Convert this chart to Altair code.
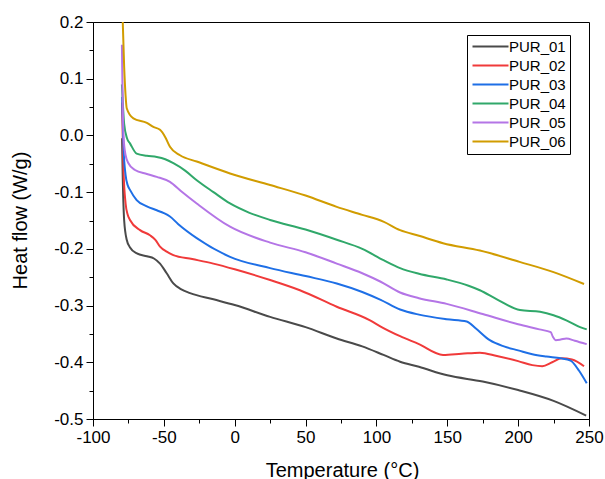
import altair as alt
import pandas as pd

series_names = ["PUR_01", "PUR_02", "PUR_03", "PUR_04", "PUR_05", "PUR_06"]
colors = ["#4a4a4a", "#f03a3a", "#1e6fe6", "#30a86a", "#b475e6", "#d19c00"]

x01 = [-79.5, -79.2, -78.0, -76.2, -74.0, -69.0, -62.0, -57.0, -52.7, -48.0, -43.3, -38.0, -31.5, -15.0, 0.0, 25.0, 50.0, 72.0, 90.0, 105.0, 116.7, 130.0, 150.0, 175.0, 200.0, 225.0, 248.0]
y01 = [-0.005, -0.05, -0.15, -0.184, -0.197, -0.208, -0.213, -0.217, -0.226, -0.243, -0.261, -0.271, -0.278, -0.289, -0.299, -0.32, -0.338, -0.358, -0.372, -0.387, -0.399, -0.408, -0.423, -0.434, -0.449, -0.468, -0.494]

x02 = [-79.5, -79.3, -78.5, -77.0, -75.5, -73.9, -66.8, -59.8, -56.0, -52.7, -48.0, -43.3, -30.0, -15.1, 0.0, 25.0, 46.0, 72.0, 95.5, 103.0, 116.7, 130.0, 147.0, 160.0, 173.0, 185.0, 200.0, 210.0, 217.0, 224.0, 230.7, 238.0, 246.5]
y02 = [0.058, 0.03, -0.06, -0.12, -0.14, -0.149, -0.167, -0.176, -0.184, -0.196, -0.205, -0.211, -0.218, -0.226, -0.236, -0.255, -0.273, -0.302, -0.326, -0.337, -0.354, -0.368, -0.387, -0.385, -0.383, -0.389, -0.398, -0.405, -0.407, -0.4, -0.393, -0.395, -0.407]

x03 = [-79.5, -78.5, -77.0, -75.5, -73.9, -69.2, -62.0, -55.0, -50.0, -45.7, -40.0, -26.8, -3.3, 25.0, 50.0, 72.0, 90.0, 103.0, 116.7, 130.0, 149.6, 163.7, 170.0, 180.0, 190.0, 200.0, 210.0, 220.0, 230.0, 237.0, 243.0, 248.4]
y03 = [0.068, -0.02, -0.07, -0.088, -0.096, -0.114, -0.125, -0.132, -0.137, -0.143, -0.156, -0.181, -0.214, -0.234, -0.248, -0.261, -0.276, -0.29, -0.307, -0.316, -0.324, -0.328, -0.34, -0.361, -0.372, -0.379, -0.386, -0.39, -0.393, -0.397, -0.415, -0.437]

x04 = [-79.6, -78.0, -76.0, -73.9, -69.2, -62.0, -55.0, -49.0, -43.3, -35.0, -26.8, -15.0, -3.3, 10.0, 25.0, 50.0, 72.0, 90.0, 105.0, 116.7, 130.0, 149.6, 165.0, 173.0, 185.0, 201.3, 215.5, 225.0, 234.0, 243.7, 248.4]
y04 = [0.09, 0.02, -0.005, -0.014, -0.032, -0.036, -0.038, -0.042, -0.049, -0.062, -0.079, -0.1, -0.12, -0.136, -0.149, -0.166, -0.184, -0.2, -0.22, -0.234, -0.244, -0.254, -0.265, -0.273, -0.289, -0.308, -0.311, -0.317, -0.326, -0.338, -0.342]

x05 = [-79.6, -78.5, -77.0, -75.0, -70.4, -62.0, -55.0, -45.7, -38.0, -26.8, -3.3, 25.0, 50.0, 72.0, 90.0, 103.0, 116.7, 130.0, 149.6, 175.0, 200.0, 215.0, 223.0, 224.5, 226.5, 230.0, 234.0, 240.0, 248.4]
y05 = [0.16, 0.0, -0.035, -0.049, -0.061, -0.068, -0.073, -0.082, -0.098, -0.12, -0.161, -0.189, -0.206, -0.226, -0.243, -0.258, -0.277, -0.287, -0.297, -0.315, -0.333, -0.342, -0.347, -0.355, -0.361, -0.36, -0.358, -0.362, -0.368]

x06 = [-79.0, -78.0, -77.0, -76.2, -71.5, -62.0, -57.4, -52.7, -49.0, -45.7, -38.6, -26.8, -3.3, 25.0, 50.0, 72.0, 90.0, 104.9, 116.7, 130.0, 147.0, 173.0, 201.0, 225.0, 246.5]
y06 = [0.2, 0.12, 0.07, 0.048, 0.03, 0.022, 0.015, 0.01, -0.003, -0.02, -0.035, -0.046, -0.067, -0.0875, -0.106, -0.126, -0.14, -0.152, -0.167, -0.177, -0.19, -0.203, -0.223, -0.241, -0.262]

x_ticks = [-100, -75, -50, -25, 0, 25, 50, 75, 100, 125, 150, 175, 200, 225, 250]
y_ticks = [-0.5, -0.45, -0.4, -0.35, -0.3, -0.25, -0.2, -0.15, -0.1, -0.05, 0.0, 0.05, 0.1, 0.15, 0.2]

rows = []
for name, xs, ys in zip(series_names, [x01, x02, x03, x04, x05, x06], [y01, y02, y03, y04, y05, y06]):
    for i, (xv, yv) in enumerate(zip(xs, ys)):
        rows.append({"series": name, "T": xv, "HF": yv, "idx": i})
df = pd.DataFrame(rows)

FONT = "Liberation Sans"
MINUS = "\u2212"

x_axis = alt.Axis(
    values=x_ticks,
    title="Temperature (°C)",
    grid=False,
    domainColor="black",
    tickColor="black",
    tickSize={"condition": {"test": "datum.value % 50 == 0", "value": 7}, "value": 4},
    labelExpr=f"datum.value % 50 == 0 ? replace(datum.label, '{MINUS}', '-') : ''",
    labelFontSize=17,
    labelColor="black",
    labelPadding=3,
    labelFlush=False,
    labelFont=FONT,
    titleFont=FONT,
    titleFontSize=20,
    titleFontWeight="normal",
    titleColor="black",
    titleX=249,
    titleY=57,
    titleBaseline="alphabetic",
    labelOverlap=False,
)

y_axis = alt.Axis(
    values=y_ticks,
    format=".1f",
    title="Heat flow (W/g)",
    grid=False,
    domainColor="black",
    tickColor="black",
    tickSize={"condition": {"test": "abs(round(datum.value*100)) % 10 == 0", "value": 7}, "value": 4},
    labelExpr=f"abs(round(datum.value*100)) % 10 == 0 ? replace(datum.label, '{MINUS}', '-') : ''",
    labelFontSize=17,
    labelColor="black",
    labelPadding=3,
    labelFlush=False,
    labelFont=FONT,
    titleFont=FONT,
    titleFontSize=20,
    titleFontWeight="normal",
    titleColor="black",
    titleX=-73,
    titleY=198,
    titleAngle=-90,
    titleAlign="center",
    titleBaseline="middle",
    labelOverlap=False,
)

legend = alt.Legend(
    orient="none",
    legendX=374,
    legendY=13,
    symbolType="M-1,0H5",
    symbolSize=144,
    symbolStrokeWidth=2,
    labelFont=FONT,
    labelFontSize=15,
    labelColor="black",
    labelOffset=23,
    rowPadding=3,
    padding=4,
    strokeColor="black",
    fillColor="white",
)

chart = alt.Chart(df).mark_line(strokeWidth=2, clip=True, interpolate="monotone").encode(
    x=alt.X("T:Q", scale=alt.Scale(domain=[-100, 250], nice=False, zero=False), axis=x_axis),
    y=alt.Y("HF:Q", scale=alt.Scale(domain=[-0.5, 0.2], nice=False, zero=False), axis=y_axis),
    color=alt.Color("series:N", scale=alt.Scale(domain=series_names, range=colors), legend=legend, title=None),
    order=alt.Order("idx:Q"),
).properties(
    width=496,
    height=397,
    autosize=alt.AutoSizeParams(type="none"),
    padding={"left": 93, "top": 22, "right": 16, "bottom": 60},
    background="white",
).configure_view(
    stroke="black",
    strokeWidth=1,
)

chart.save("out.html", embed_options={"renderer": "svg", "actions": False})
